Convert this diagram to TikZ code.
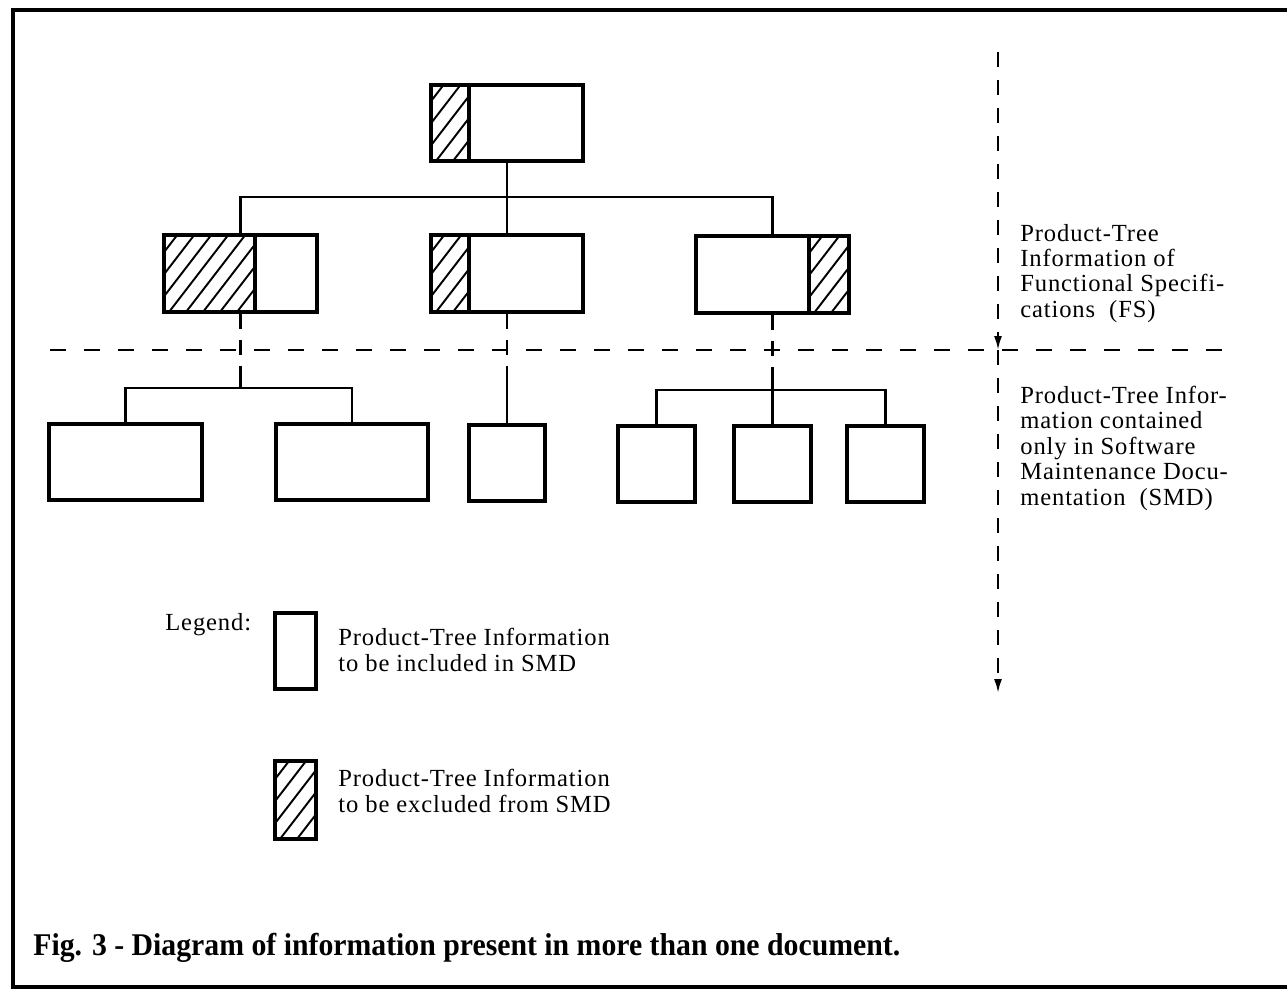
\documentclass[tikz,border=0pt]{standalone}
\usepackage{fontspec}
\setmainfont{Liberation Serif}[LetterSpace=3.5]
\newfontfamily\capfont{Liberation Serif}
\usetikzlibrary{arrows.meta,calc}
\begin{document}
\begin{tikzpicture}[x=0.02cm,y=-0.02cm,
  frame/.style={line width=0.08cm},
  box/.style={draw,line width=1.8pt,inner sep=0pt,fill=white},
  hatched/.style={draw,line width=1.8pt,inner sep=0pt,
    path picture={\foreach \s in {-80,-63,...,180}{
      \draw[line width=1.1pt] ([xshift={\s*0.02cm}]path picture bounding box.south west) -- ++(60,-78);}}},
  link/.style={line width=1.2pt},
  dlink/.style={line width=1.2pt,dash pattern=on 0.3cm off 0.22cm},
  hdash/.style={line width=1.5pt,dash pattern=on 0.32cm off 0.36cm},
  vdash/.style={line width=1.2pt,dash pattern=on 0.3cm off 0.26cm,-{Latex[length=0.28cm,width=0.16cm]}},
  lbl/.style={inner sep=0pt,align=left,font=\fontsize{14pt}{14.3pt}\selectfont},
  lblb/.style={inner sep=0pt,align=left,font=\fontsize{14pt}{14.5pt}\selectfont}
]
\newcommand{\boxnode}[6][box]{%
  \node[#1,minimum width={(#5-#3)*0.02cm},minimum height={(#6-#4)*0.02cm}]
    (#2) at ({(#3+#5)/2},{(#4+#6)/2}) {};}

% page background and outer frame
\useasboundingbox[fill=white] (0,0) rectangle (1287,991);
\draw[frame] (1287,10) -- (13,10) -- (13,987) -- (1287,987);

% top level
\boxnode{t}{431}{85}{583}{161}
\boxnode[hatched]{th}{431}{85}{469}{161}

% functional-specification level
\boxnode{ml}{164}{235}{317}{312}
\boxnode[hatched]{mlh}{164}{235}{255}{312}
\boxnode{mc}{431}{235}{583}{312}
\boxnode[hatched]{mch}{431}{235}{469}{312}
\boxnode{mr}{696}{236}{849}{313}
\boxnode[hatched]{mrh}{809}{236}{849}{313}

% maintenance-documentation level
\boxnode{b1}{49}{424}{202}{500}
\boxnode{b2}{276}{424}{428}{500}
\boxnode{b3}{469}{425}{545}{501}
\boxnode{b4}{618}{426}{695}{502}
\boxnode{b5}{734}{426}{811}{502}
\boxnode{b6}{847}{426}{924}{502}

% tree links, upper part
\coordinate (j0) at (507,197);
\draw[link] (t.south) -- (mc.north);
\draw[link] (ml.north) -- (ml.north |- j0) -- (mr.north |- j0) -- (mr.north);

% tree links, lower part
\coordinate (sl) at ($(ml.south)+(0,56)$);
\coordinate (jl) at ($(ml.south)+(0,74)$);
\draw[dlink] (ml.south) -- (sl);
\draw[link] (sl) -- (jl);
\draw[link] (b1.north) -- (b1.north |- jl) -- (b2.north |- jl) -- (b2.north);

\coordinate (sm) at ($(mc.south)+(0,66)$);
\draw[dlink] (mc.south) -- (sm);
\draw[link] (sm) -- (b3.north);

\coordinate (sr) at ($(mr.south)+(0,65)$);
\coordinate (jr) at ($(mr.south)+(0,75)$);
\draw[dlink] (mr.south) -- (sr);
\draw[link] (sr) -- (jr);
\draw[link] (b4.north) -- (b4.north |- jr) -- (b6.north |- jr) -- (b6.north);
\draw[link] (jr) -- (b5.north);

% level boundary
\coordinate (hl) at (50,350);
\coordinate (hr) at (1237,350);
\draw[hdash] (hl) -- (hr);

% extent arrows
\coordinate (vtop) at (998,52);
\coordinate (vmid) at (998,350);
\coordinate (vbot) at (998,693);
\draw[vdash] (vtop) -- (vmid);
\draw[vdash] (vmid) -- (vbot);

% side labels (anchored at the baseline of their last line)
\node[lbl,anchor=base west] (fs) at (1020,317)
  {Product-Tree\\Information of\\Functional Specifi-\\cations\ \ (FS)};
\node[lblb,anchor=base west] (smd) at (1020,505)
  {Product-Tree Infor-\\mation contained\\only in Software\\Maintenance Docu-\\mentation\ \ (SMD)};

% legend
\node[lbl,anchor=base west] (lg) at (165,630) {Legend:};
\boxnode{lb1}{275}{613}{316}{689}
\boxnode[hatched]{lb2}{275}{761}{316}{839}
\node[lbl,anchor=base west] (lt1) at (338,671) {Product-Tree Information\\to be included in SMD};
\node[lbl,anchor=base west] (lt2) at (338,812) {Product-Tree Information\\to be excluded from SMD};

% caption
\node[inner sep=0pt,anchor=base west] (cap) at (33,955)
  {\resizebox{17.34cm}{\height}{\capfont\fontsize{18pt}{20pt}\selectfont\bfseries
   Fig. 3 - Diagram of information present in more than one document.}};
\end{tikzpicture}
\end{document}
